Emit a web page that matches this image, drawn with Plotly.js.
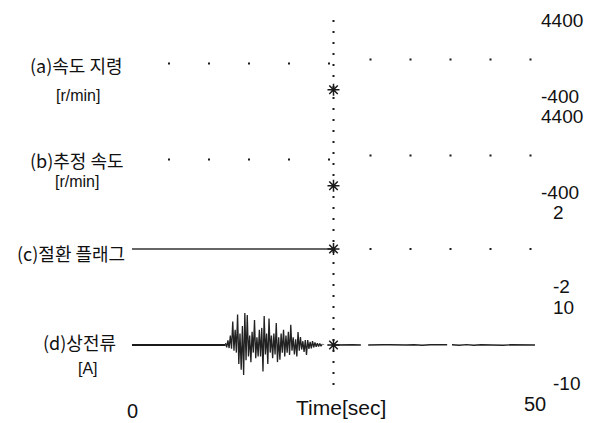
<!DOCTYPE html>
<html>
<head>
<meta charset="utf-8">
<script src="https://cdn.plot.ly/plotly-3.0.1.min.js"></script>
<style>html,body{margin:0;padding:0;background:#fff;}#chart{width:596px;height:423px;}</style>
</head>
<body>
<div id="chart"></div>
<script>
// ---- data ----
const xTickVals = [0, 50];
const xTickText = ['0', '50'];
const switchTime = [25];

const panelLabels = ['(a)속도 지령', '(b)추정 속도', '(c)절환 플래그', '(d)상전류'];
const unitLabels = ['[r/min]', '[r/min]', '', '[A]'];

const speedRange = [-400, 4400];
const flagRange = [-2, 2];
const currentRange = [-10, 10];

// (a) speed command [r/min]
const cmdBeforeT = [0, 25];
const cmdBeforeV = [1650, 1650];
const cmdAfterT = [25, 50];
const cmdAfterV = [1900, 1900];

// (b) estimated speed [r/min]
const estBeforeT = [0, 25];
const estBeforeV = [1650, 1650];
const estAfterT = [25, 50];
const estAfterV = [1900, 1900];

// (c) switching flag
const flagBeforeT = [0, 25];
const flagBeforeV = [0, 0];
const flagAfterT = [25, 50];
const flagAfterV = [0, 0];

// (d) phase current [A]
const curPreT = [0, 2, 4, 6, 8, 10, 11.6];
const curPreV = [0, 0, 0.1, 0, 0, 0.1, 0];
const curBurstT = [11.6,11.75,11.9,12.05,12.2,12.35,12.5,12.65,12.8,12.95,13.1,13.25,13.4,13.55,13.7,13.85,14.0,14.15,14.3,14.45,14.6,14.75,14.9,15.05,15.2,15.35,15.5,15.65,15.8,15.95,16.1,16.25,16.4,16.55,16.7,16.85,17.0,17.15,17.3,17.45,17.6,17.75,17.9,18.05,18.2,18.35,18.5,18.65,18.8,18.95,19.1,19.25,19.4,19.55,19.7,19.85,20.0,20.15,20.3,20.45,20.6,20.75,20.9,21.05,21.2,21.35,21.5,21.65,21.8,21.95,22.1,22.25,22.4,22.55,22.7,22.85,23.0,23.15,23.3,23.45,23.6];
const curBurstV = [0.5,-0.6,1.2,-0.8,2.5,-1.0,6.2,-1.5,4.0,-2.0,8.0,-5.0,3.0,-6.5,5.0,-7.9,8.4,-4.0,7.9,-3.0,2.5,-4.5,3.5,-2.0,6.6,-3.5,2.0,-3.0,4.0,-3.0,4.5,-7.0,7.6,-2.5,3.0,-5.0,7.0,-2.0,2.5,-3.5,3.0,-2.5,5.8,-4.5,2.0,-3.9,3.0,-2.0,4.0,-3.0,2.5,-2.0,3.5,-2.6,5.3,-1.5,2.0,-2.5,1.5,-3.0,3.4,-1.5,2.1,-1.2,1.0,-1.8,1.3,-2.6,1.3,-1.0,0.8,-0.9,1.0,-0.6,0.7,-0.5,0.5,-0.4,0.4,-0.3,0.2];
const curTailT = [23.6, 24.2, 25];
const curTailV = [0.2, 0, 0];
const curPostT = [25, 25.8, 26.6, 27.4, 28.4, null, 29.3, 30.2, 31.1, 32.0, 33.0, 34.0, 35.0, 36.0, 37.0, 38.0, 39.1, null, 39.7, 40.6, 41.5, 42.4, 43.3, 44.2, 45.1, 46.0, 47.0, 48.0, 49.0, 50];
const curPostV = [0, 0.05, -0.05, 0.05, 0, null, 0, -0.05, 0.05, 0.05, -0.05, 0, 0.05, -0.05, 0.05, 0, 0.05, null, 0.05, -0.05, 0.1, -0.05, 0.05, 0, 0.05, -0.05, 0.05, 0, 0.05, 0];

// markers at the switching instant (one per panel)
const switchMarkV = [0, 0, 0, 0];

// ---- layout geometry ----
const H = 423;
const f = p => 1 - p / H;
const domA = [f(96), f(20)];
const domB = [f(192), f(116)];
const domC = [f(286), f(212)];
const domD = [f(383), f(307)];

const dotDash = '0px,36px,2px,2px';
const ink = '#1a1a1a';

function ln(x, y, yax, width, dash, color) {
  return {x: x, y: y, yaxis: yax, type: 'scatter', mode: 'lines',
    line: {color: color || ink, width: width, dash: dash || 'solid'},
    hoverinfo: 'skip', connectgaps: false};
}

const traces = [
  ln(cmdBeforeT, cmdBeforeV, 'y', 2, dotDash),
  ln(cmdAfterT, cmdAfterV, 'y', 2, dotDash),
  ln(estBeforeT, estBeforeV, 'y2', 2, dotDash),
  ln(estAfterT, estAfterV, 'y2', 2, dotDash),
  ln(flagBeforeT, flagBeforeV, 'y3', 1.3, 'solid', '#333'),
  ln(flagAfterT, flagAfterV, 'y3', 2, dotDash),
  ln(curPreT, curPreV, 'y4', 1.8),
  ln(curBurstT, curBurstV, 'y4', 1.3, 'solid', '#222'),
  ln(curTailT, curTailV, 'y4', 1, '2px,3px', '#777'),
  ln(curPostT, curPostV, 'y4', 1.4, 'solid', '#222')
];
['y', 'y2', 'y3', 'y4'].forEach((ya, i) => {
  traces.push({x: switchTime, y: [switchMarkV[i]], yaxis: ya, type: 'scatter', mode: 'markers',
    marker: {symbol: 'asterisk-open', size: 10, color: ink, line: {color: ink, width: 1.5}},
    hoverinfo: 'skip'});
});

const numFont = {family: 'Liberation Sans, Arial, sans-serif', size: 19, color: '#111'};
function yax(dom, range, standoff) {
  return {domain: dom, range: range, anchor: 'x', side: 'right',
    showgrid: false, zeroline: false, showline: false, ticks: '',
    tickmode: 'array', tickvals: range, ticktext: range.map(String),
    tickfont: numFont, ticklabelstandoff: standoff, automargin: false, fixedrange: true};
}

const korFont = {family: 'Noto Sans CJK KR, sans-serif', size: 18, color: '#111'};
const unitFont = {family: 'Liberation Sans, Arial, sans-serif', size: 16, color: '#111'};
const annotations = [
  {text: panelLabels[0], x: 76, y: f(65), font: korFont},
  {text: unitLabels[0], x: 78, y: f(95), font: unitFont},
  {text: panelLabels[1], x: 77, y: f(160), font: korFont},
  {text: unitLabels[1], x: 77, y: f(181), font: unitFont},
  {text: panelLabels[2], x: 71, y: f(253), font: korFont},
  {text: panelLabels[3], x: 79, y: f(342), font: korFont},
  {text: unitLabels[3], x: 88, y: f(368), font: unitFont},
  {text: 'Time[sec]', x: 341, y: f(407), font: {family: 'Liberation Sans, Arial, sans-serif', size: 21, color: '#111'}}
].map(a => Object.assign({xref: 'paper', yref: 'paper', showarrow: false, xanchor: 'center', yanchor: 'middle'}, a))
 .map(a => { a.x = (a.x - 132) / (596 - 132 - 61); return a; });

annotations.push({text: xTickText[0], x: xTickVals[0], xref: 'x', y: f(411), yref: 'paper', showarrow: false,
  xanchor: 'center', yanchor: 'middle', font: {family: 'Liberation Sans, Arial, sans-serif', size: 20, color: '#111'}});
annotations.push({text: xTickText[1], x: xTickVals[1], xref: 'x', y: f(404), yref: 'paper', showarrow: false,
  xanchor: 'center', yanchor: 'middle', font: {family: 'Liberation Sans, Arial, sans-serif', size: 20, color: '#111'}});

const layout = {
  width: 596, height: 423,
  margin: {l: 132, r: 61, t: 0, b: 0, pad: 0},
  paper_bgcolor: '#fff', plot_bgcolor: '#fff',
  showlegend: false, hovermode: false,
  xaxis: {range: [0, 50], visible: false, domain: [0, 1], anchor: 'y4', fixedrange: true},
  yaxis: yax(domA, speedRange, 5),
  yaxis2: yax(domB, speedRange, 5),
  yaxis3: yax(domC, flagRange, 17),
  yaxis4: yax(domD, currentRange, 17),
  shapes: [{type: 'line', xref: 'x', yref: 'paper', x0: switchTime[0], x1: switchTime[0],
    y0: f(385), y1: f(15), line: {color: ink, width: 2, dash: '2px,9px'}}],
  annotations: annotations
};

Plotly.newPlot('chart', traces, layout, {staticPlot: true, displayModeBar: false});
</script>
</body>
</html>
